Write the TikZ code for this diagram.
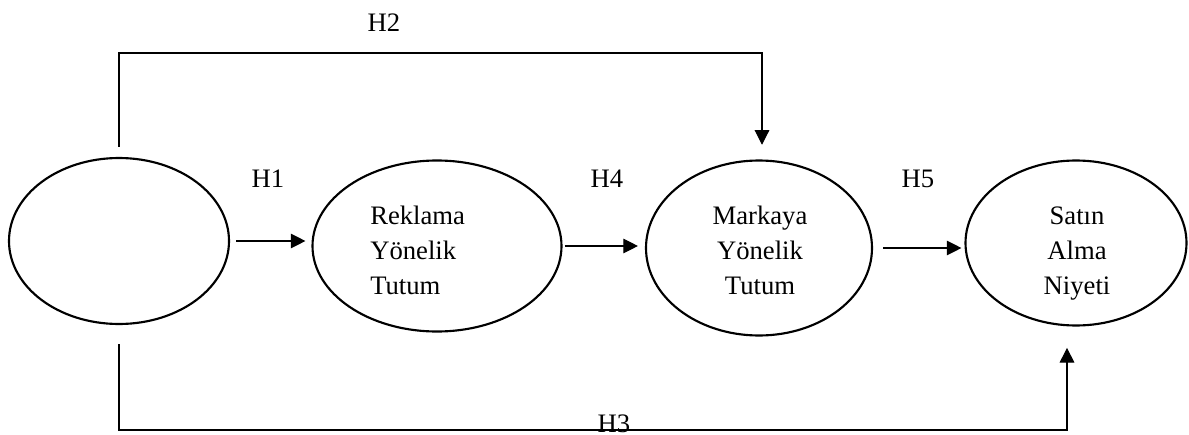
\documentclass[tikz,border=0pt]{standalone}
\usepackage{fontspec}
\setmainfont{Liberation Serif}
\usetikzlibrary{shapes,arrows.meta,positioning}

\tikzset{
  konstrukt/.style={draw,ellipse,line width=1.6pt,inner sep=0pt},
  yol/.style={line width=0.8pt,-{Triangle[length=11pt,width=11pt]}},
  etiket/.style={font=\fontsize{20}{26.25}\selectfont,anchor=base},
  icyazi/.style={font=\fontsize{20}{26.25}\selectfont,inner sep=0pt},
}

\begin{document}
\begin{tikzpicture}[x=0.75pt,y=-0.75pt]
\clip (0,0) rectangle (1189,435);

\node[konstrukt,minimum width=165pt,minimum height=124.5pt] (bag) at (119,241) {};
\node[konstrukt,minimum width=186.75pt,minimum height=128.25pt] (reklam) at (437,246) {};
\node[konstrukt,minimum width=169.5pt,minimum height=131.25pt] (marka) at (759,248) {};
\node[konstrukt,minimum width=165.75pt,minimum height=123.75pt] (niyet) at (1076,243) {};

\node[icyazi,anchor=north west,align=left] (reklamyazi) at (370,206) {Reklama\\Yönelik\\Tutum};
\node[icyazi,anchor=north,align=center] (markayazi) at (760,206) {Markaya\\Yönelik\\Tutum};
\node[icyazi,anchor=north,align=center] (niyetyazi) at (1077,207) {Satın\\Alma\\Niyeti};

\coordinate (ust) at (119,53);
\coordinate (alt) at (119,430);

\draw[yol] ([xshift=4.5pt]bag.east) -- ([xshift=-4.5pt]bag.east -| reklam.west);
\draw[yol] ([xshift=1.5pt]reklam.east) -- ([xshift=-5.25pt]reklam.east -| marka.west);
\draw[yol] ([xshift=7.5pt]marka.east) -- ([xshift=-2.25pt]marka.east -| niyet.west);
\draw[yol,shorten <=7.5pt,shorten >=11pt] (bag.north) -- (ust) -| ([xshift=2.25pt]marka.north);
\draw[yol,shorten <=14.25pt,shorten >=16pt] (bag.south) -- (alt) -| ([xshift=-6.75pt]niyet.south);

\node[etiket] (h1) at (268,187) {H1};
\node[etiket] (h2) at (384,32) {H2};
\node[etiket] (h3) at (614,432) {H3};
\node[etiket] (h4) at (607,187) {H4};
\node[etiket] (h5) at (918,187) {H5};
\end{tikzpicture}
\end{document}
